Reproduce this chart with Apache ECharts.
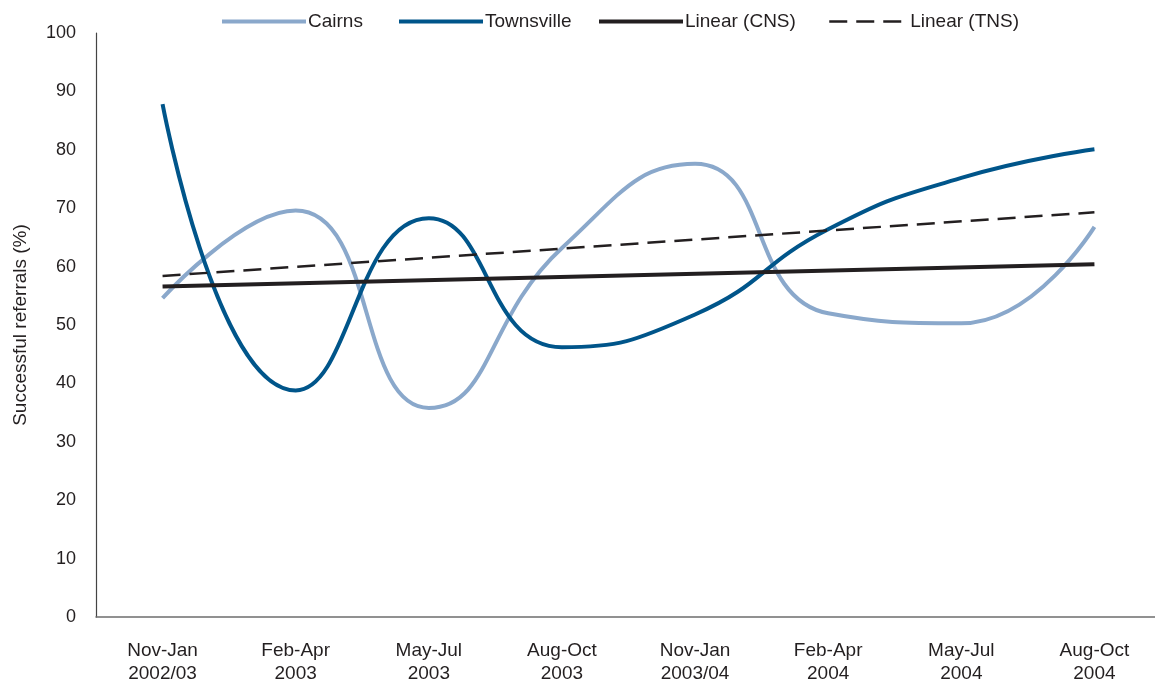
<!DOCTYPE html>
<html>
<head>
<meta charset="utf-8">
<script src="https://cdn.jsdelivr.net/npm/echarts@6/dist/echarts.min.js"></script>
<style>
  html, body { margin: 0; padding: 0; background: #ffffff; }
  #chart { width: 1155px; height: 684px; }
</style>
</head>
<body>
<div id="chart"></div>
<script>
// Quarterly periods on the x axis
const periods = [
  'Nov-Jan\n2002/03', 'Feb-Apr\n2003', 'May-Jul\n2003', 'Aug-Oct\n2003',
  'Nov-Jan\n2003/04', 'Feb-Apr\n2004', 'May-Jul\n2004', 'Aug-Oct\n2004'
];

// Successful referrals (%) per period
const cairns     = [54.6, 69.6, 35.8, 63.2, 77.6, 52.0, 50.3, 66.8];
const townsville = [87.8, 38.8, 68.3, 46.2, 51.8, 66.4, 75.2, 80.1];

// Linear trend lines: values at the first and last period
const linearCNS = [56.6, null, null, null, null, null, null, 60.4];
const linearTNS = [58.4, null, null, null, null, null, null, 69.3];

// Y axis range
const yMin = 0, yMax = 100, yStep = 10;

const FONT = '"Liberation Sans", Arial, sans-serif';
const TEXT = '#231f20';

// One legend entry per component so each sits at its own x position
function legendEntry(name, left, width, lineStyle) {
  return {
    left: left,
    top: 12,
    itemWidth: width,
    itemHeight: 18,
    padding: 0,
    itemStyle: { opacity: 0 },
    lineStyle: lineStyle || { width: 'inherit' },
    textStyle: { fontSize: 19, color: TEXT, fontFamily: FONT, padding: [0, 0, 0, -3] },
    data: [name]
  };
}

const chart = echarts.init(document.getElementById('chart'), null, { renderer: 'canvas' });

chart.setOption({
  animation: false,
  backgroundColor: '#ffffff',
  textStyle: { fontFamily: FONT, color: TEXT },
  legend: [
    legendEntry('Cairns', 220, 84),
    legendEntry('Townsville', 397, 84),
    legendEntry('Linear (CNS)', 597, 84),
    legendEntry('Linear (TNS)', 828, 79, { width: 2.5, type: [18, 9] })
  ],
  grid: { left: 96, right: -6, top: 33, bottom: 67, containLabel: false, outerBoundsMode: 'none' },
  xAxis: {
    type: 'category',
    data: periods,
    boundaryGap: true,
    axisLine: { show: true, lineStyle: { color: '#6d6d6d', width: 1.5 } },
    axisTick: { show: false },
    axisLabel: {
      margin: 22,
      fontSize: 19,
      lineHeight: 23,
      color: TEXT,
      fontFamily: FONT,
      interval: 0
    },
    splitLine: { show: false }
  },
  yAxis: {
    type: 'value',
    min: yMin,
    max: yMax,
    interval: yStep,
    name: 'Successful referrals (%)',
    nameLocation: 'middle',
    nameGap: 66,
    nameTextStyle: { fontSize: 19, color: TEXT, fontFamily: FONT },
    axisLine: { show: true, lineStyle: { color: '#444444', width: 1.2 } },
    axisTick: { show: false },
    axisLabel: { margin: 20, fontSize: 18, color: TEXT, fontFamily: FONT },
    splitLine: { show: false }
  },
  series: [
    {
      name: 'Cairns',
      type: 'line',
      data: cairns,
      smooth: 0.5,
      symbol: 'none',
      z: 3,
      itemStyle: { color: '#8aa8cb' },
      lineStyle: { color: '#8aa8cb', width: 4 }
    },
    {
      name: 'Townsville',
      type: 'line',
      data: townsville,
      smooth: 0.5,
      symbol: 'none',
      z: 4,
      itemStyle: { color: '#00558a' },
      lineStyle: { color: '#00558a', width: 4 }
    },
    {
      name: 'Linear (CNS)',
      type: 'line',
      data: linearCNS,
      connectNulls: true,
      symbol: 'none',
      z: 5,
      itemStyle: { color: '#231f20' },
      lineStyle: { color: '#231f20', width: 4 }
    },
    {
      name: 'Linear (TNS)',
      type: 'line',
      data: linearTNS,
      connectNulls: true,
      symbol: 'none',
      z: 5,
      itemStyle: { color: '#231f20' },
      lineStyle: { color: '#231f20', width: 2.5, type: [18, 9] }
    }
  ]
});
</script>
</body>
</html>
